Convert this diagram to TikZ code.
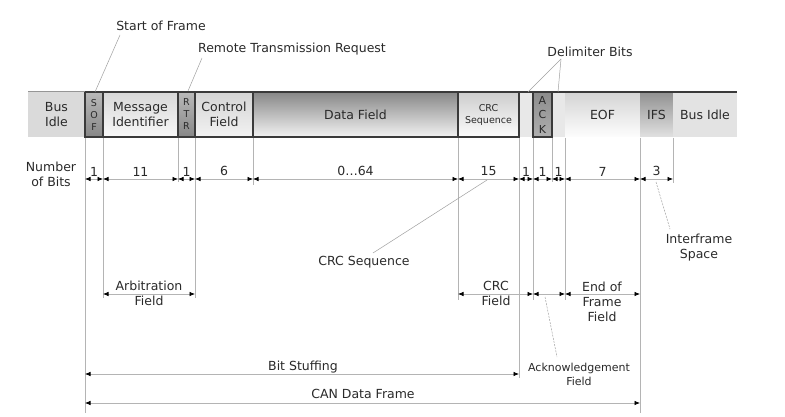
\documentclass[tikz,border=0pt]{standalone}
\usepackage{fontspec}
\setmainfont{DejaVu Sans}
\usetikzlibrary{arrows.meta}
\definecolor{txt}{HTML}{2A2A2A}
\definecolor{edge}{HTML}{3A3A3A}
\definecolor{extc}{HTML}{B4B4B4}
\definecolor{leadc}{HTML}{A0A0A0}
\tikzset{
  band/.style={minimum height=45pt, inner sep=0pt, align=center, text=txt},
  boxed/.style={draw=edge, line width=1.2pt},
  ext/.style={draw=extc, line width=0.8pt},
  dim/.style={draw=extc, line width=0.7pt,
    {Latex[length=5.5pt,width=4.5pt,color=black]}-{Latex[length=5.5pt,width=4.5pt,color=black]}},
  lead/.style={draw=leadc, line width=0.5pt},
  dlead/.style={draw=leadc, line width=0.5pt, dash pattern=on 2pt off 1.2pt},
  num/.style={above, inner sep=2.5pt, text=txt},
  lbl/.style={align=center, text=txt, inner sep=0pt},
  vert/.style={font=\fontsize{9.5}{12}\selectfont},
}
\begin{document}
\begin{tikzpicture}[x=1pt,y=-1pt, font=\fontsize{12.5}{15}\selectfont]
\useasboundingbox (0,0) rectangle (785,417);
\fill[white] (0,0) rectangle (785,417);

% ---------- frame band ----------
\node[band, fill={rgb,255:red,218;green,218;blue,218}, minimum width=57pt] (idle1) at (56.5,114.5) {Bus\\Idle};
\node[band, fill={rgb,255:red,232;green,232;blue,232}, minimum width=14pt] (del1) at (526,114.5) {};
\node[band, fill={rgb,255:red,232;green,232;blue,232}, minimum width=13pt] (del2) at (558.5,114.5) {};
\node[band, top color={rgb,255:red,212;green,212;blue,212}, bottom color={rgb,255:red,253;green,253;blue,253}, minimum width=75pt] (eof) at (602.5,114.5) {EOF};
\node[band, top color={rgb,255:red,145;green,145;blue,145}, bottom color={rgb,255:red,225;green,225;blue,225}, minimum width=33pt] (ifs) at (656.5,114.5) {IFS};
\node[band, fill={rgb,255:red,227;green,227;blue,227}, minimum width=64pt] (idle2) at (705,114.5) {Bus Idle};

\node[band, boxed, top color={rgb,255:red,185;green,185;blue,185}, bottom color={rgb,255:red,135;green,135;blue,135}, minimum width=18pt, vert] (sof) at (94,114.5) {S\\O\\F};
\node[band, boxed, top color={rgb,255:red,215;green,215;blue,215}, bottom color={rgb,255:red,248;green,248;blue,248}, minimum width=75pt] (msg) at (140.5,114.5) {Message\\Identifier};
\node[band, boxed, top color={rgb,255:red,185;green,185;blue,185}, bottom color={rgb,255:red,135;green,135;blue,135}, minimum width=17pt, vert] (rtr) at (186.5,114.5) {R\\T\\R};
\node[band, boxed, top color={rgb,255:red,212;green,212;blue,212}, bottom color={rgb,255:red,242;green,242;blue,242}, minimum width=58pt] (ctrl) at (224,114.5) {Control\\Field};
\node[band, boxed, top color={rgb,255:red,135;green,135;blue,135}, bottom color={rgb,255:red,242;green,242;blue,242}, minimum width=205pt] (data) at (355.5,114.5) {Data Field};
\node[band, boxed, top color={rgb,255:red,205;green,205;blue,205}, bottom color={rgb,255:red,252;green,252;blue,252}, minimum width=61pt, font=\fontsize{9.5}{12}\selectfont] (crc) at (488.5,114.5) {CRC\\Sequence};
\node[band, boxed, top color={rgb,255:red,140;green,140;blue,140}, bottom color={rgb,255:red,175;green,175;blue,175}, minimum width=19pt, font=\fontsize{11}{14.5}\selectfont] (ack) at (542.5,114.5) {A\\C\\K};

\coordinate (topL) at (28,92);
\coordinate (topA) at (85,92);
\coordinate (topB) at (737,92);
\draw[draw={rgb,255:red,150;green,150;blue,150}, line width=1pt] (topL) -- (topA);
\draw[draw=edge, line width=1.3pt] (topA) -- (topB);

% ---------- extension lines ----------
\foreach \x/\y in {85/413, 103/298, 178/182, 195/298, 253/185, 458/300, 519/378, 533/300, 552/182, 565/300, 640/413, 673/183}{
  \coordinate (e\x a) at (\x,138);
  \coordinate (e\x b) at (\x,\y);
  \draw[ext] (e\x a) -- (e\x b);
}

% ---------- number of bits ----------
\node[lbl] (nob) at (51,174) {Number\\of Bits};
\foreach \x in {85,103,178,195,253,458,519,533,552,565,640,673}{
  \coordinate (n\x) at (\x,179);
}
\draw[dim] (n85) -- node[num]{1} (n103);
\draw[dim] (n103) -- node[num]{11} (n178);
\draw[dim] (n178) -- node[num]{1} (n195);
\draw[dim] (n195) -- node[num]{6} (n253);
\draw[dim] (n253) -- node[num]{0…64} (n458);
\draw[dim] (n458) -- node[num]{15} (n519);
\draw[dim] (n519) -- node[num]{1} (n533);
\draw[dim] (n533) -- node[num]{1} (n552);
\draw[dim] (n552) -- node[num]{1} (n565);
\draw[dim] (n565) -- node[num]{7} (n640);
\draw[dim] (n640) -- node[num]{3} (n673);

% ---------- field ranges ----------
\foreach \x in {103,195,458,533,565,640}{
  \coordinate (f\x) at (\x,294);
}
\draw[dim] (f103) -- (f195);
\node[lbl] (arb) at (149,293.5) {Arbitration\\Field};
\draw[dim] (f458) -- (f533);
\node[lbl] (crcf) at (496,293.5) {CRC\\Field};
\draw[dim] (f533) -- (f565);
\draw[dim] (f565) -- (f640);
\node[lbl] (eoff) at (602,301.5) {End of\\Frame\\Field};

\coordinate (bs0) at (85,374);
\coordinate (bs1) at (519,374);
\draw[dim] (bs0) -- (bs1);
\node[lbl] (bst) at (303,367) {Bit Stuffing};
\coordinate (cf0) at (85,403);
\coordinate (cf1) at (640,403);
\draw[dim] (cf0) -- (cf1);
\node[lbl] (cdf) at (363,394) {CAN Data Frame};

% ---------- callouts ----------
\node[lbl] (sofl) at (161,26) {Start of Frame};
\coordinate (sofp) at (95,92);
\coordinate (sofq) at (120,35);
\draw[lead] (sofq) -- (sofp);

\node[lbl] (rtrl) at (292,49) {Remote Transmission Request};
\coordinate (rtrp) at (188,91);
\coordinate (rtrq) at (202,58);
\draw[lead] (rtrq) -- (rtrp);

\node[lbl] (dell) at (590,52) {Delimiter Bits};
\coordinate (delq) at (561,59);
\coordinate (delp1) at (528,92);
\coordinate (delp2) at (558,92);
\draw[lead] (delq) -- (delp1);
\draw[lead] (delq) -- (delp2);

\node[lbl] (crcl) at (364,262) {CRC Sequence};
\coordinate (crcq) at (487,180);
\coordinate (crcp) at (373,253);
\draw[lead] (crcq) -- (crcp);

\node[lbl] (ifsl) at (699,247.5) {Interframe\\Space};
\coordinate (ifsq) at (656,182);
\coordinate (ifsp) at (670,229);
\draw[dlead] (ifsq) -- (ifsp);

\node[lbl, font=\fontsize{11}{14}\selectfont] (ackl) at (579,374) {Acknowledgement\\Field};
\coordinate (ackq) at (545,297);
\coordinate (ackp) at (557,357);
\draw[dlead] (ackq) -- (ackp);
\end{tikzpicture}
\end{document}
